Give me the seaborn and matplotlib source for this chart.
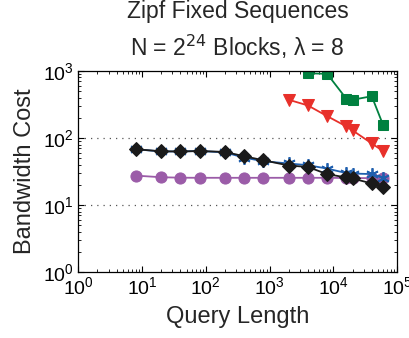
import numpy as np
import pandas as pd
import matplotlib
matplotlib.use("Agg")
import matplotlib.pyplot as plt
import seaborn as sns
from matplotlib.ticker import LogLocator, NullFormatter

# query lengths (x) per series
x_all = [8, 20, 40, 80, 200, 400, 800, 2000, 4000, 8000, 16000, 20000, 40000, 60000]
x_green = [4000, 8000, 16000, 20000, 40000, 60000]
x_red = [2000, 4000, 8000, 16000, 20000, 40000, 60000]

green_vals = [925, 905, 385, 372, 420, 158]
red_vals = [372, 306, 212, 149, 130, 83, 64]
purple_vals = [27.5, 26, 25.6, 25.5, 25.5, 25.5, 25.5, 25.5, 25.5, 25.5, 25.3, 25.3, 25.2, 25]
blue_vals = [68, 63, 63, 64, 61, 51, 45, 41.7, 39.3, 35, 30, 29.5, 29, 25.5]
black_vals = [68, 63.4, 63, 64, 62, 53.5, 46.6, 38.9, 37, 28.9, 25.8, 24.9, 21, 18.7]

sns.set_theme(style="ticks")
plt.rcParams['font.family'] = ['Liberation Sans', 'DejaVu Sans']

fig = plt.figure(figsize=(4.09, 3.38), dpi=100)
ax = fig.add_axes([0.191, 0.195, 0.780, 0.595])

sns.lineplot(ax=ax, x=x_green, y=green_vals, color='#00803f', marker='s', markersize=7,
             markeredgecolor='#00803f', linewidth=1.3)
sns.lineplot(ax=ax, x=x_red, y=red_vals, color='#e8302a', marker='v', markersize=9,
             markeredgecolor='#e8302a', linewidth=1.3)
sns.lineplot(ax=ax, x=x_all, y=purple_vals, color='#9b5ca8', marker='o', markersize=8,
             markeredgecolor='#9b5ca8', linewidth=1.3)
sns.lineplot(ax=ax, x=x_all, y=blue_vals, color='#1f5fae', marker=(6, 2, 0), markersize=9,
             markeredgecolor='#1f5fae', markeredgewidth=1.3, linewidth=1.3)
sns.lineplot(ax=ax, x=x_all, y=black_vals, color='#1a1a1a', marker='D', markersize=7,
             markeredgecolor='#1a1a1a', linewidth=1.3)

ax.set_xscale('log')
ax.set_yscale('log')
ax.set_xlim(1, 1e5)
ax.set_ylim(1, 1e3)

ax.xaxis.set_major_locator(LogLocator(base=10, numticks=10))
ax.yaxis.set_major_locator(LogLocator(base=10, numticks=10))
ax.xaxis.set_minor_locator(LogLocator(base=10, subs=np.arange(2, 10), numticks=20))
ax.yaxis.set_minor_locator(LogLocator(base=10, subs=np.arange(2, 10), numticks=20))
ax.xaxis.set_minor_formatter(NullFormatter())
ax.yaxis.set_minor_formatter(NullFormatter())

ax.tick_params(which='both', direction='in', top=True, right=True, labelsize=14, colors='black')
ax.tick_params(which='major', length=4, width=0.8, pad=3)
ax.tick_params(which='minor', length=2, width=0.6)

for yv in [10, 100]:
    ax.axhline(yv, color='#555555', linestyle=(0, (1, 4)), linewidth=0.9, zorder=0)

for s in ax.spines.values():
    s.set_color('black')
    s.set_linewidth(0.9)

ax.set_xlabel('Query Length', fontsize=17, labelpad=6)
ax.set_ylabel('Bandwidth Cost', fontsize=17, labelpad=5)
ax.set_title('Zipf Fixed Sequences\nN = 2$^{24}$ Blocks, λ = 8', fontsize=16.5, pad=11,
             linespacing=1.4)

fig.savefig('out.png', dpi=100)
